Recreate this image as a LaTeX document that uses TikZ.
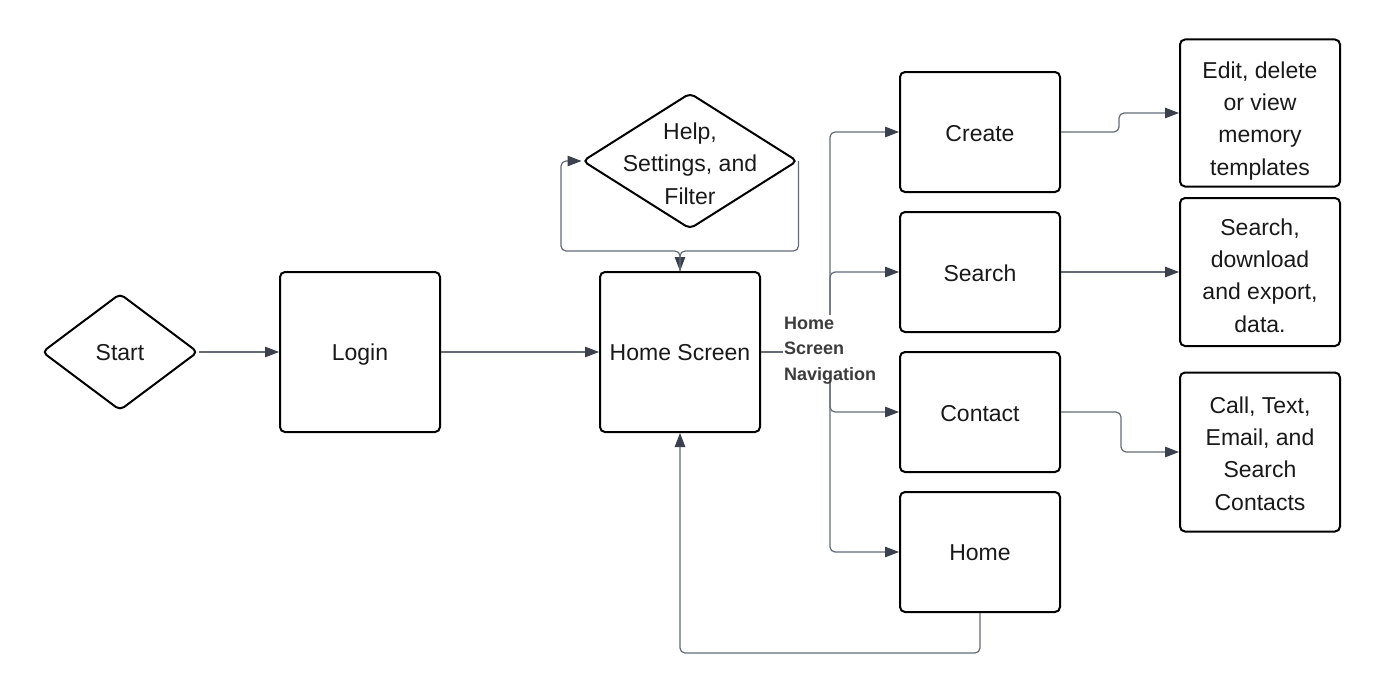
\documentclass[tikz,border=0pt]{standalone}
\usepackage{fontspec}
\setmainfont{Liberation Sans}
\usetikzlibrary{shapes.geometric,arrows.meta}
\definecolor{conncol}{RGB}{100,106,118}
\definecolor{tipcol}{RGB}{58,64,78}
\definecolor{txtcol}{RGB}{25,25,25}
\definecolor{lblcol}{RGB}{60,60,60}
\tikzset{
  boxnode/.style={draw=black, line width=2pt, rounded corners=5pt, minimum width=160pt, minimum height=120pt, inner sep=0pt},
  diamnode/.style={diamond, draw=black, line width=2pt, rounded corners=5pt, inner sep=0pt},
  btext/.style={align=center, text=txtcol, font=\fontsize{23}{32.3}\selectfont, inner sep=0pt, text depth=0pt},
  conn/.style={draw=conncol, line width=1.2pt, rounded corners=5pt, -{Triangle[length=14pt,width=10.5pt,fill=tipcol,color=tipcol]}},
  plainconn/.style={draw=conncol, line width=1.2pt, rounded corners=5pt},
  navlbl/.style={align=left, fill=white, text=lblcol, font=\bfseries\fontsize{18}{25.5}\selectfont, inner sep=1.5pt, text depth=0pt}
}
\begin{document}
\begin{tikzpicture}[x=1pt,y=-1pt]
\useasboundingbox (0,0) rectangle (1380,693);
% shapes
\node[diamnode, minimum width=156pt, minimum height=117pt] (start) at (120,352) {};
\node[boxnode, minimum height=160pt] (login) at (360,352) {};
\node[boxnode, minimum height=160pt] (hs) at (680,352) {};
\node[diamnode, minimum width=215pt, minimum height=136pt] (help) at (690,161) {};
\node[boxnode] (create) at (980,132) {};
\node[boxnode] (search) at (980,272) {};
\node[boxnode] (contact) at (980,412) {};
\node[boxnode] (homeb) at (980,552) {};
\node[boxnode, minimum height=147pt] (edit) at (1260,113) {};
\node[boxnode, minimum height=148pt] (sdata) at (1260,272) {};
\node[boxnode, minimum height=159pt] (call) at (1260,452) {};
% texts
\node[btext] (startt) at (120,352) {Start};
\node[btext] (logint) at (360,352) {Login};
\node[btext] (hst) at (680,352) {Home Screen};
\node[btext] (helpt) at (690,163.5) {Help,\\Settings, and\\Filter};
\node[btext] (createt) at (980,133) {Create};
\node[btext] (searcht) at (980,273) {Search};
\node[btext] (contactt) at (980,413) {Contact};
\node[btext] (homebt) at (980,553) {Home};
\node[btext] (editt) at (1260,118.5) {Edit, delete\\or view\\memory\\templates};
\node[btext] (sdatat) at (1260,275.5) {Search,\\download\\and export,\\data.};
\node[btext] (callt) at (1260,453.5) {Call, Text,\\Email, and\\Search\\Contacts};
\coordinate (j) at (830,352);
% connectors
\draw[conn] (start.east) -- (login.west);
\draw[conn] (login.east) -- (hs.west);
\draw[plainconn] (hs.east) -- (j);
\draw[conn] (j) |- (create.west);
\draw[conn] (j) |- (search.west);
\draw[conn] (j) |- (contact.west);
\draw[conn] (j) |- (homeb.west);
\draw[conn] (create.east) -- ++(58,0) |- (edit.west);
\draw[conn] (search.east) -- (sdata.west);
\draw[conn] (contact.east) -- ++(60,0) |- (call.west);
\draw[conn] (homeb.south) -- ++(0,40) -| (hs.south);
\draw[conn] (help.east) -- ++(0,90) -| (hs.north);
\draw[conn] (hs.north) -- ++(0,-20) -- ++(-119,0) |- (help.west);
% navigation label
\node[navlbl] (nav) at (830,348.5) {Home\\Screen\\Navigation};
\end{tikzpicture}
\end{document}
